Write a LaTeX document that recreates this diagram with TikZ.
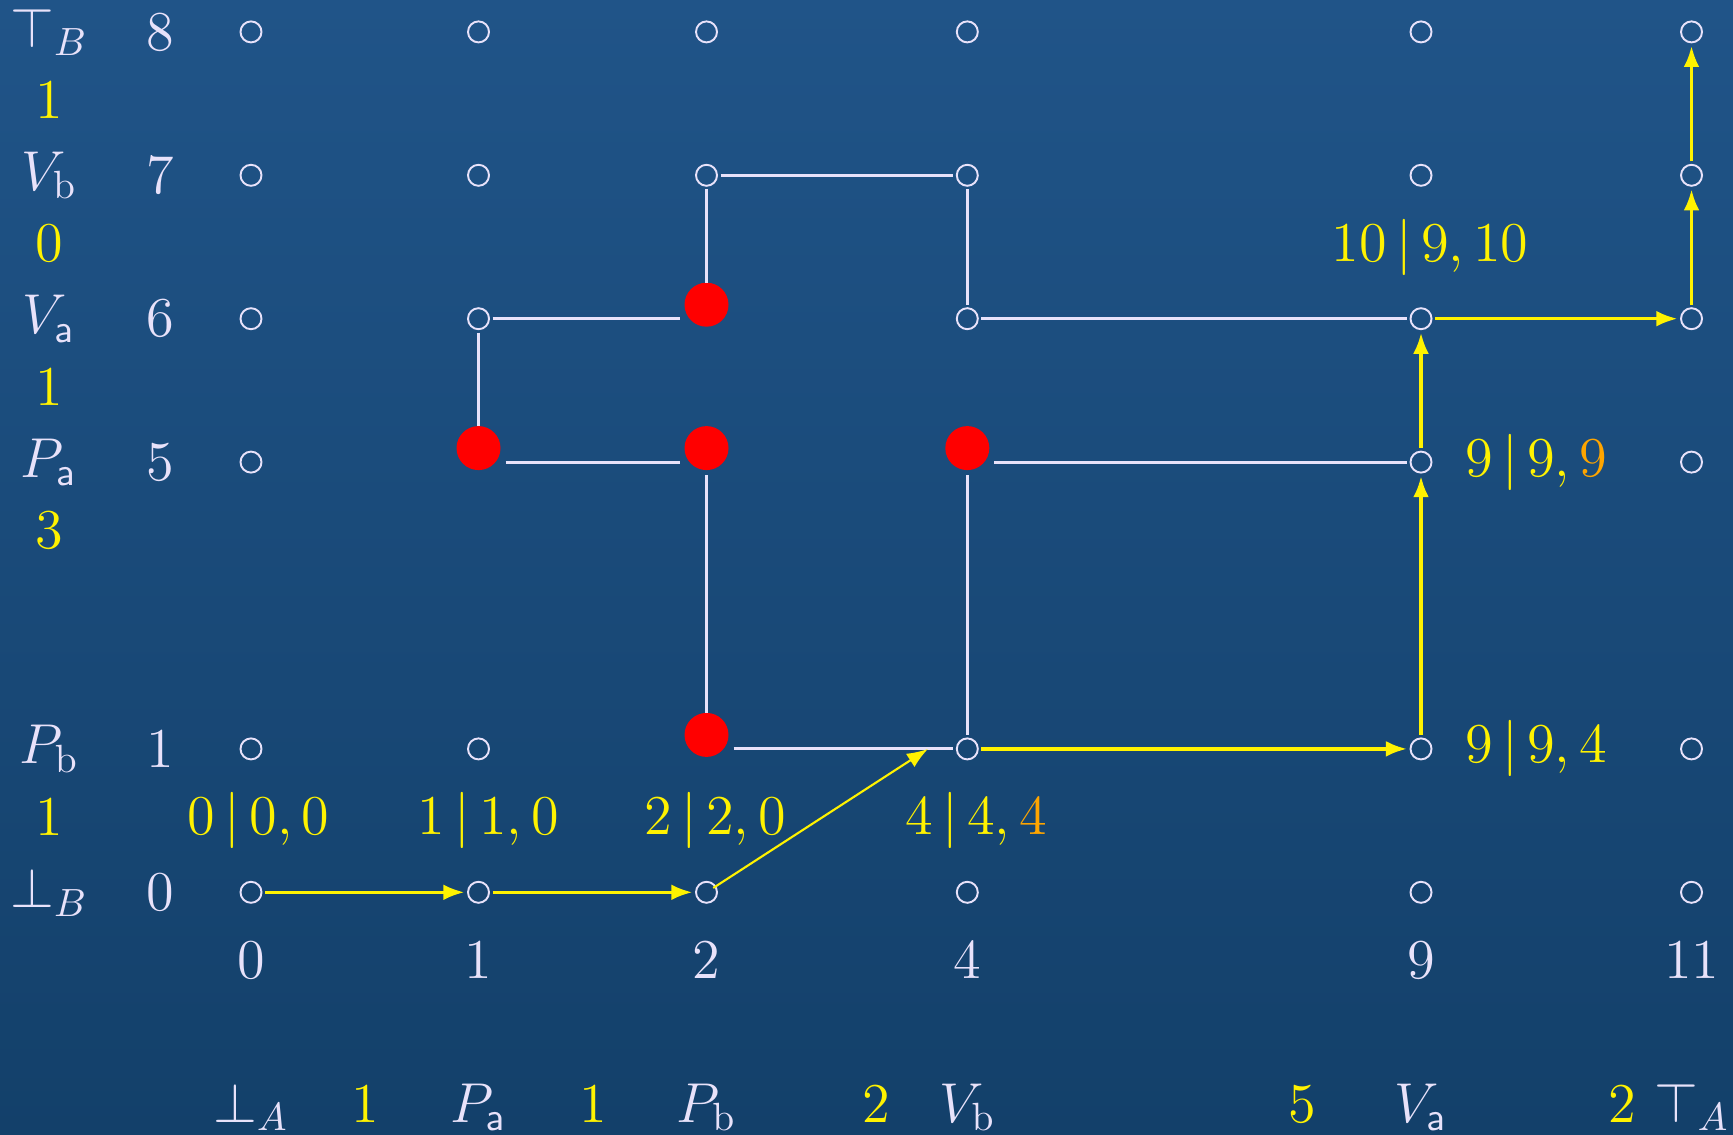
\documentclass[tikz,border=0pt]{standalone}
\usepackage{fix-cm}
\usetikzlibrary{arrows.meta}

\definecolor{hgoben}{RGB}{32,84,136}
\definecolor{hgunten}{RGB}{19,64,106}
\definecolor{hell}{RGB}{232,226,250}
\definecolor{orng}{RGB}{255,165,0}

\begin{document}
\begin{tikzpicture}[
    font=\fontsize{16}{19}\selectfont,
    every node/.style={text=hell},
    pkt/.style={circle, draw=hell, line width=0.55pt, minimum size=0.21cm, inner sep=0pt, outer sep=0.035cm},
    treffer/.style={circle, fill=red, minimum size=0.44cm, inner sep=0pt, outer sep=0.05cm},
    kante/.style={hell, line width=0.9pt},
    weg/.style={yellow, line width=1pt, -{Latex[length=6pt,width=4.5pt]}},
    gew/.style={text=yellow}
]
    % Hintergrund
    \useasboundingbox (0,0) rectangle (17.33,11.34);
    \shade[top color=hgoben, bottom color=hgunten] (0,0) rectangle (17.33,11.34);

    % Gitter
    \foreach \c/\x in {0/2.51, 1/4.785, 2/7.065, 4/9.673, 9/14.21, 11/16.915}
        \foreach \r/\y in {0/2.417, 1/3.851, 5/6.719, 6/8.153, 7/9.587, 8/11.021}
            \coordinate (p-\c-\r) at (\x,\y);

    % offene Punkte
    \foreach \c in {0,1,2,4,9,11} {
        \node[pkt] (n-\c-0) at (p-\c-0) {};
        \node[pkt] (n-\c-7) at (p-\c-7) {};
        \node[pkt] (n-\c-8) at (p-\c-8) {};
    }
    \foreach \c in {0,1,4,9,11} {
        \node[pkt] (n-\c-1) at (p-\c-1) {};
        \node[pkt] (n-\c-6) at (p-\c-6) {};
    }
    \foreach \c in {0,9,11}
        \node[pkt] (n-\c-5) at (p-\c-5) {};

    % rote Punkte
    \foreach \c/\r in {1/5, 2/5, 4/5, 2/6, 2/1}
        \node[treffer] (n-\c-\r) at ([yshift=0.14cm]p-\c-\r) {};

    % Kanten
    \draw[kante] (n-2-7) -- (n-4-7);
    \draw[kante, shorten >=-0.05cm] (n-2-7) -- (n-2-6);
    \draw[kante] (n-4-7) -- (n-4-6);
    \draw[kante] (n-4-6) -- (n-9-6);
    \draw[kante] (n-1-6) -- (n-2-6.west |- p-2-6);
    \draw[kante, shorten >=-0.05cm] (n-1-6) -- (n-1-5);
    \draw[kante] (n-1-5.east |- p-1-5) -- (n-2-5.west |- p-2-5);
    \draw[kante] (n-4-5.east |- p-4-5) -- (n-9-5);
    \draw[kante, shorten >=-0.05cm] (n-2-5) -- (n-2-1);
    \draw[kante] (n-4-5) -- (n-4-1);
    \draw[kante] (n-2-1.east |- p-2-1) -- (n-4-1);

    % Weg
    \coordinate (ziel) at (9.28,3.851);
    \draw[weg] (n-0-0) -- (n-1-0);
    \draw[weg] (n-1-0) -- (n-2-0);
    \draw[weg, line width=0.6pt, shorten <=0.08cm] (n-2-0.center) -- (ziel);
    \draw[weg] (n-4-1) -- (n-9-1);
    \draw[weg] (n-9-1) -- (n-9-5);
    \draw[weg] (n-9-5) -- (n-9-6);
    \draw[weg] (n-9-6) -- (n-11-6);
    \draw[weg] (n-11-6) -- (n-11-7);
    \draw[weg] (n-11-7) -- (n-11-8);

    % Werte
    \node[gew] (w-0) at (2.585,3.134) {$0\,|\,0,0$};
    \node[gew] (w-1) at (4.88,3.134) {$1\,|\,1,0$};
    \node[gew] (w-2) at (7.15,3.134) {$2\,|\,2,0$};
    \node[gew] (w-4) at (9.76,3.134) {$4\,|\,4,\textcolor{orng}{4}$};
    \node[gew] (w-9a) at (15.36,3.851) {$9\,|\,9,4$};
    \node[gew] (w-9b) at (15.36,6.719) {$9\,|\,9,\textcolor{orng}{9}$};
    \node[gew] (w-9c) at (14.30,8.87) {$10\,|\,9,10$};

    % Zeilen B
    \foreach \r/\t in {8/\top_B, 7/V_\mathrm{b}, 6/V_\mathsf{a}, 5/P_\mathsf{a}, 1/P_\mathrm{b}, 0/\bot_B} {
        \node (bn-\r) at ([xshift=-2.02cm]p-0-\r) {$\t$};
        \node (bz-\r) at ([xshift=-0.91cm]p-0-\r) {$\r$};
    }
    \foreach \y/\w [count=\i] in {10.34/1, 8.905/0, 7.47/1, 6.037/3, 3.169/1}
        \node[gew] (bw-\i) at (0.49,\y) {$\w$};

    % Spalten A
    \foreach \c/\t in {0/\bot_A, 1/P_\mathsf{a}, 2/P_\mathrm{b}, 4/V_\mathrm{b}, 9/V_\mathsf{a}, 11/\top_A} {
        \node (az-\c) at ([yshift=-0.677cm]p-\c-0) {$\c$};
        \node[anchor=base] (an-\c) at ([yshift=-2.297cm]p-\c-0) {$\t$};
    }
    \foreach \x/\w [count=\i] in {3.655/1, 5.93/1, 8.76/2, 13.02/5, 16.22/2}
        \node[gew, anchor=base] (aw-\i) at (\x,0.12) {$\w$};
\end{tikzpicture}
\end{document}
